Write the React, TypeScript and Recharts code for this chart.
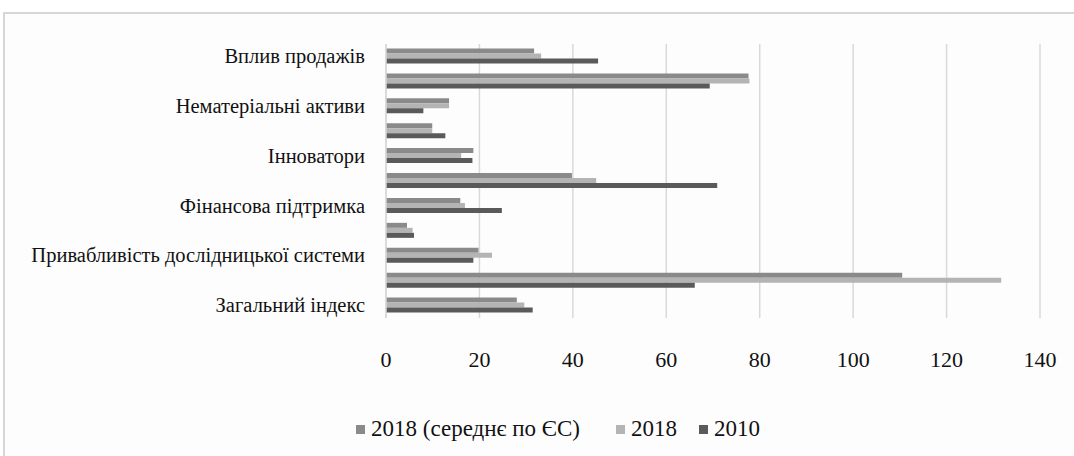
import { BarChart, Bar, XAxis, YAxis, CartesianGrid, Legend } from 'recharts';

// categories top -> bottom, only every other one gets a visible label
const categories = [
  'Вплив продажів',
  'Вплив на зайнятість',
  'Нематеріальні активи',
  "Зв'язки",
  'Інноватори',
  'Інвестиції фірм',
  'Фінансова підтримка',
  'Сприятливе середовище',
  'Привабливість дослідницької системи',
  'Людські ресурси',
  'Загальний індекс',
];

const euAvg2018 = [31.7, 77.6, 13.5, 9.9, 18.7, 39.8, 15.9, 4.5, 19.8, 110.5, 28.0];
const ua2018 = [33.2, 77.8, 13.5, 9.9, 16.1, 45.0, 16.9, 5.7, 22.7, 131.7, 29.6];
const ua2010 = [45.4, 69.3, 8.0, 12.7, 18.5, 70.9, 24.8, 6.0, 18.7, 66.1, 31.4];

const xTicks = [0, 20, 40, 60, 80, 100, 120, 140];

const series = [
  { key: 'eu2018', name: '2018 (середнє по ЄС)', color: '#8a8a8a' },
  { key: 'ua2018', name: '2018', color: '#b4b4b4' },
  { key: 'ua2010', name: '2010', color: '#5a5a5a' },
];

const data = categories.map((name, i) => ({
  name,
  eu2018: euAvg2018[i],
  ua2018: ua2018[i],
  ua2010: ua2010[i],
}));

const FONT = 'Liberation Serif, Times New Roman, serif';
const textStyle = { fontFamily: FONT, fill: '#111' };

function XTick(props: any) {
  const { x, y, payload } = props;
  return (
    <text x={x} y={y} dy="0.71em" textAnchor="middle" fontSize={22} style={textStyle}>
      {payload.value}
    </text>
  );
}

function YTick(props: any) {
  const { x, y, payload } = props;
  return (
    <text x={x} y={y} dy="0.33em" textAnchor="end" fontSize={20.5} style={textStyle}>
      {payload.value}
    </text>
  );
}

const legendGaps = [36, 22, 0];

function LegendBox() {
  const txt = { fontFamily: FONT, fontSize: 23, color: '#111' };
  return (
    <div style={{ display: 'flex', justifyContent: 'center', height: 26, alignItems: 'center', paddingLeft: 76, ...txt }}>
      {series.map((s, i) => (
        <div key={s.key} style={{ display: 'flex', alignItems: 'center', marginRight: legendGaps[i], ...txt }}>
          <span style={{ display: 'inline-block', width: 9, height: 9, background: s.color, marginRight: 6 }} />
          <span style={txt}>{s.name}</span>
        </div>
      ))}
    </div>
  );
}

export default function App() {
  return (
    <div style={{ position: 'absolute', left: 0, top: 0, width: 1074, height: 456, background: '#fff' }}>
      <div style={{ position: 'absolute', left: 3, top: 12, width: 1071, height: 444, borderTop: '2px solid #d6d6d6', borderLeft: '2px solid #d6d6d6', background: '#fdfdfd' }} />
      <div style={{ position: 'absolute', left: 0, top: 0 }}>
        <BarChart
          width={1074}
          height={456}
          data={data}
          layout="vertical"
          margin={{ top: 44, right: 34, bottom: 14, left: 0 }}
          barCategoryGap="18%"
          barGap={0}
        >
          <CartesianGrid horizontal={false} stroke="#d9d9d9" strokeWidth={1.5} />
          <XAxis
            type="number"
            domain={[0, 140]}
            ticks={xTicks}
            axisLine={false}
            tickLine={false}
            tickSize={0}
            tickMargin={33}
            height={98}
            tick={<XTick />}
          />
          <YAxis
            type="category"
            dataKey="name"
            width={386}
            interval={1}
            axisLine={{ stroke: '#d9d9d9', strokeWidth: 1.5 }}
            tickLine={false}
            tickSize={0}
            tickMargin={21}
            tick={<YTick />}
          />
          <Legend verticalAlign="bottom" content={() => <LegendBox />} />
          {series.map((s) => (
            <Bar key={s.key} dataKey={s.key} name={s.name} fill={s.color} isAnimationActive={false} />
          ))}
        </BarChart>
      </div>
    </div>
  );
}
